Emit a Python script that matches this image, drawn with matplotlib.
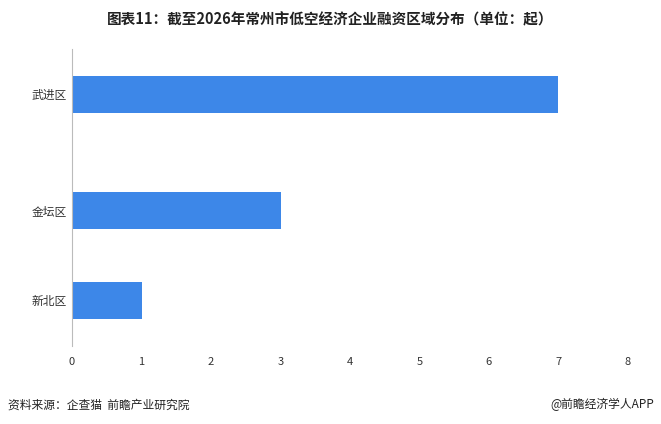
import matplotlib.pyplot as plt

plt.rcParams['font.family'] = ['Noto Sans CJK SC', 'DejaVu Sans']

districts = ['新北区', '金坛区', '武进区']
counts = [1, 3, 7]
ypos = [0, 1, 2.3]  # row positions as laid out in the source chart

fig = plt.figure(figsize=(6.61, 4.24), dpi=100)
ax = fig.add_axes([0.109, 0.185, 0.841, 0.70])

ax.barh(ypos, counts, height=0.41, color='#3d87e8')
ax.set_yticks(ypos)
ax.set_yticklabels(districts)
ax.set_xlim(0, 8)
ax.set_ylim(-0.506, 2.81)
ax.set_xticks(range(0, 9))
ax.tick_params(axis='both', length=0, labelsize=8.5, colors='#333333')
ax.tick_params(axis='x', pad=8, labelsize=8)
for s in ['top', 'right', 'bottom']:
    ax.spines[s].set_visible(False)
ax.spines['left'].set_color('#bbbbbb')

fig.text(0.5, 0.955, '图表11：截至2026年常州市低空经济企业融资区域分布（单位：起）',
         ha='center', va='center', fontsize=10.5, fontweight='bold', color='#222222')
fig.text(0.012, 0.045, '资料来源：企查猫  前瞻产业研究院', ha='left', va='center',
         fontsize=8.5, color='#222222')
fig.text(0.99, 0.045, '@前瞻经济学人APP', ha='right', va='center',
         fontsize=8.5, color='#222222')

fig.savefig('out.png', dpi=100)
